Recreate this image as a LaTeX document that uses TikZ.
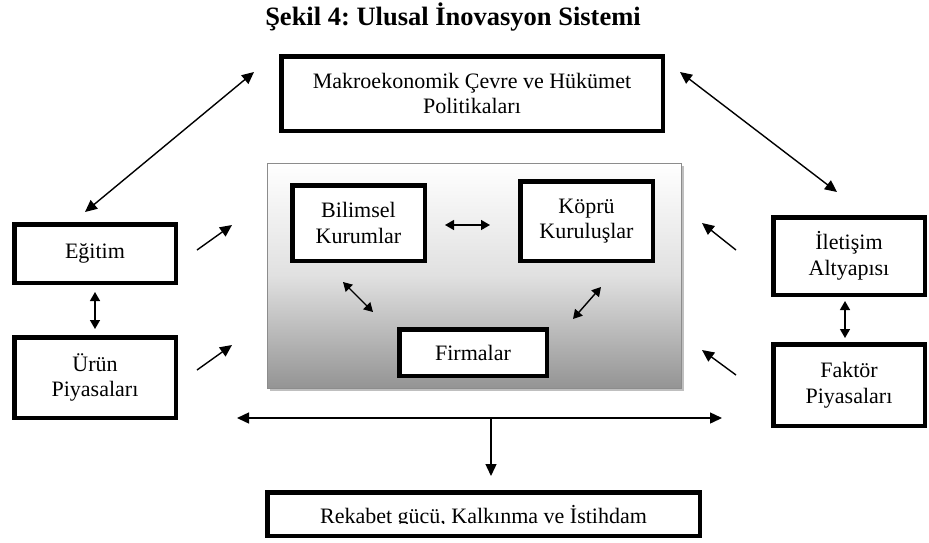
\documentclass[tikz,border=0pt]{standalone}
\usepackage{fontspec}
\setmainfont{Liberation Serif}
\usetikzlibrary{arrows.meta}
\frenchspacing
\begin{document}
\begin{tikzpicture}[x=1pt,y=-1pt,
  box/.style={draw=black,line width=4.5pt,fill=white,inner sep=0pt,outer sep=0pt,
    align=center,font=\fontsize{22}{25.5}\selectfont},
  link/.style={line width=1.4pt,-{Triangle[length=12pt,width=11pt]}},
  dlink/.style={line width=1.4pt,{Triangle[length=12pt,width=11pt]}-{Triangle[length=12pt,width=11pt]}},
  slink/.style={line width=1.4pt,{Triangle[length=9pt,width=10pt]}-{Triangle[length=9pt,width=10pt]}}]
\useasboundingbox (0,0) rectangle (929,542);

% title
\node[font=\fontsize{26.5}{30}\selectfont\bfseries] (title) at (453,17) {Şekil 4: Ulusal İnovasyon Sistemi};

% shaded core panel with soft shadow
\fill[black!25] (270,166) rectangle (684,391);
\shade[top color=white,bottom color=black!42,middle color=black!12,draw=black!45,line width=0.8pt]
  (267,163) rectangle (681,388);
\node[inner sep=0pt,minimum width=414pt,minimum height=225pt] (panel) at (474,275.5) {};

% boxes
\node[box,minimum width=381.5pt,minimum height=74.5pt] (makro) at (472,93.5)
  {Makroekonomik Çevre ve Hükümet\\Politikaları};
\node[box,minimum width=132.5pt,minimum height=75.5pt] (bilim) at (358.5,223)
  {Bilimsel\\Kurumlar};
\node[box,minimum width=132.5pt,minimum height=79.5pt] (kopru) at (586.5,221)
  {Köprü\\Kuruluşlar};
\node[box,minimum width=147.5pt,minimum height=46.5pt] (firma) at (473,352.5) {Firmalar};
\node[box,minimum width=161.5pt,minimum height=58.5pt] (egitim) at (95,253.5) {Eğitim};
\node[box,minimum width=161.5pt,minimum height=80.5pt] (urun) at (95,377.5) {Ürün\\Piyasaları};
\node[box,minimum width=151.5pt,minimum height=77.5pt] (iletisim) at (849,256) {İletişim\\Altyapısı};
\node[box,minimum width=151.5pt,minimum height=81.5pt] (faktor) at (849,385) {Faktör\\Piyasaları};
\node[box,minimum width=432.5pt,minimum height=43.5pt] (rekabet) at (483.5,514) {};
\begin{scope}
  \clip (268,493) rectangle (699,523.5);
  \node[anchor=base,inner sep=0pt,font=\fontsize{22}{25.5}\selectfont] (rektext) at (483.5,523.5)
    {Rekabet gücü, Kalkınma ve İstihdam};
\end{scope}

% connector end points
\coordinate (m1) at (254,72);   \coordinate (e0) at (85,212);
\coordinate (m2) at (680,72);   \coordinate (i0) at (837,192);
\coordinate (e1) at (197,250);  \coordinate (e2) at (232,225);
\coordinate (u1) at (197,370);  \coordinate (u2) at (232,345);
\coordinate (i1) at (736,250);  \coordinate (i2) at (702,223);
\coordinate (f1) at (736,375);  \coordinate (f2) at (702,350);
\coordinate (eu1) at (95,292);  \coordinate (eu2) at (95,329);
\coordinate (if1) at (845,301); \coordinate (if2) at (845,338);
\coordinate (bk1) at (445,225); \coordinate (bk2) at (490,225);
\coordinate (bf1) at (343,282); \coordinate (bf2) at (373,312);
\coordinate (kf1) at (601,287); \coordinate (kf2) at (573,319);
\coordinate (h1) at (237,418);  \coordinate (h2) at (722,418);
\coordinate (d1) at (491,418);  \coordinate (d2) at (491,476);

% connectors
\draw[dlink] (m1) -- (e0);
\draw[dlink] (m2) -- (i0);
\draw[link] (e1) -- (e2);
\draw[link] (u1) -- (u2);
\draw[link] (i1) -- (i2);
\draw[link] (f1) -- (f2);
\draw[slink] (eu1) -- (eu2);
\draw[slink] (if1) -- (if2);
\draw[slink] (bk1) -- (bk2);
\draw[slink] (bf1) -- (bf2);
\draw[slink] (kf1) -- (kf2);
\draw[dlink] (h1) -- (h2);
\draw[link] (d1) -- (d2);
\end{tikzpicture}
\end{document}
